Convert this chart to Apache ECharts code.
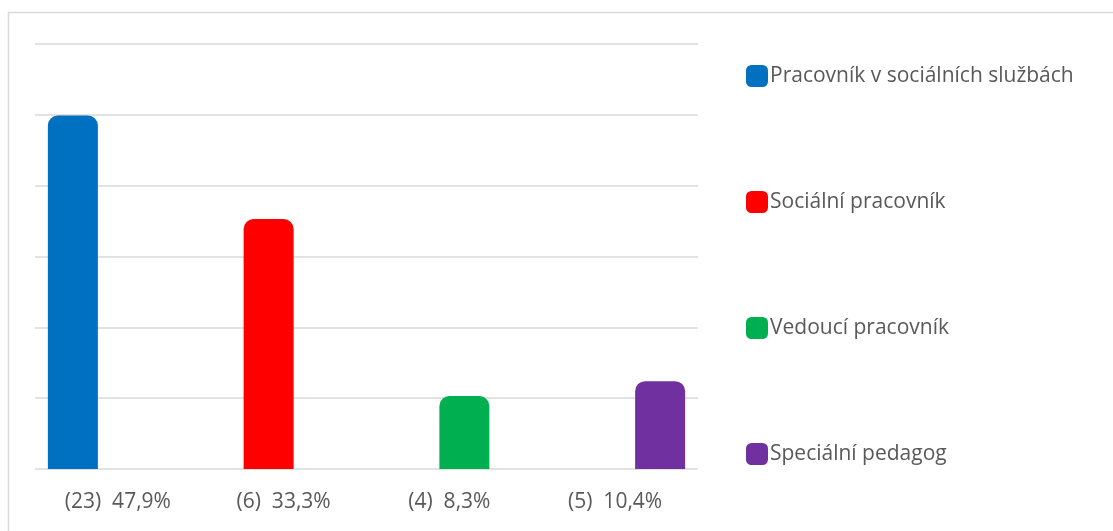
<!DOCTYPE html>
<html>
<head>
<meta charset="utf-8">
<script src="https://cdn.jsdelivr.net/npm/echarts@6/dist/echarts.min.js"></script>
<style>
  html, body { margin: 0; padding: 0; background: #ffffff; }
  #chart { width: 1113px; height: 531px; }
</style>
</head>
<body>
<div id="chart"></div>
<script>
// Pozice respondentů: počet (v závorce) a podíl v %
const categories = ['(23)  47,9%', '(6)  33,3%', '(4)  8,3%', '(5)  10,4%'];
const seriesNames = ['Pracovník v sociálních službách', 'Sociální pracovník', 'Vedoucí pracovník', 'Speciální pedagog'];
const shares = [47.9, 33.3, 8.3, 10.4];
const colors = ['#0070C0', '#FF0000', '#00B050', '#7030A0'];

// Each position is its own series, with a value only in its own category
const series = seriesNames.map((name, i) => ({
  name: name,
  type: 'bar',
  barWidth: 50,
  barGap: '-40%',
  itemStyle: { color: colors[i], borderRadius: [10, 10, 0, 0] },
  data: categories.map((c, j) => (j === i ? shares[i] : '-'))
}));

const textFont = '"Open Sans", "Noto Sans", sans-serif';

const chart = echarts.init(document.getElementById('chart'), null, { renderer: 'canvas' });
chart.setOption({
  animation: false,
  backgroundColor: '#ffffff',
  color: colors,
  graphic: [{
    type: 'rect',
    silent: true,
    shape: { x: 8.5, y: 12.5, width: 1130, height: 540 },
    style: { fill: 'none', stroke: '#d9d9d9', lineWidth: 1.5 },
    z: -10
  }],
  grid: { left: 35, right: 415, top: 44, bottom: 62, containLabel: false },
  legend: {
    orient: 'vertical',
    left: 741,
    top: 60,
    icon: 'roundRect',
    itemWidth: 22,
    itemHeight: 22,
    itemGap: 104,
    selectedMode: false,
    textStyle: {
      fontFamily: textFont,
      fontSize: 21,
      color: '#595959',
      lineHeight: 22,
      padding: [0, 0, 0, -3]
    },
    data: seriesNames
  },
  xAxis: {
    type: 'category',
    data: categories,
    axisLine: { show: false },
    axisTick: { show: false },
    axisLabel: {
      margin: 23,
      fontFamily: textFont,
      fontSize: 21,
      color: '#595959'
    }
  },
  yAxis: {
    type: 'value',
    min: -2,
    max: 58,
    interval: 10,
    startValue: -2,
    axisLabel: { show: false },
    axisLine: { show: false },
    axisTick: { show: false },
    splitLine: { lineStyle: { color: '#d9d9d9', width: 1.5 } }
  },
  series: series
});
</script>
</body>
</html>
